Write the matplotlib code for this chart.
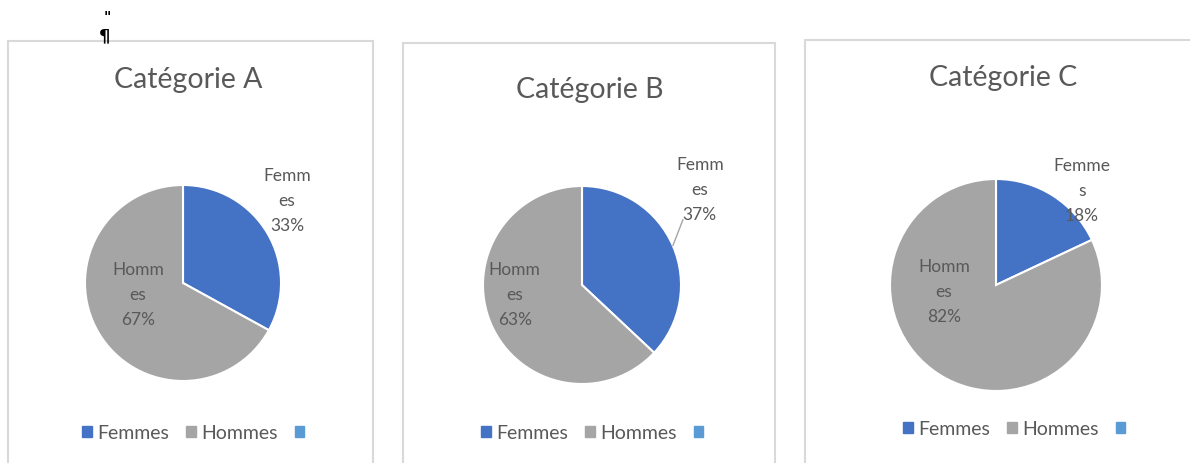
import numpy as np
import matplotlib.pyplot as plt
from matplotlib.patches import Rectangle, Patch

# données
titres = ["Catégorie A", "Catégorie B", "Catégorie C"]
categories = ["Femmes", "Hommes"]
etiquettes = [["Femm\nes", "Homm\nes"], ["Femm\nes", "Homm\nes"], ["Femme\ns", "Homm\nes"]]
valeurs_a = [33, 67]
valeurs_b = [37, 63]
valeurs_c = [18, 82]
valeurs = [valeurs_a, valeurs_b, valeurs_c]

couleurs = ["#4472C4", "#A5A5A5"]
couleur_vide = "#5B9BD5"
gris_texte = "#595959"

W, H = 1190, 464
fig = plt.figure(figsize=(W / 100, H / 100), dpi=100)
plt.rcParams['font.family'] = ['Lato', 'DejaVu Sans']

def px(x, y):
    return x / W, 1 - y / H

# cadres (gauche, haut, droite) en pixels
cadres = [(8, 42, 373), (403, 44, 775), (805, 41, 1195)]
# centre et rayon des camemberts
pies = [(183, 284, 98), (582, 286, 99), (996, 286, 106)]
titres_pos = [(188, 80), (590, 90), (1003, 78)]
# position des étiquettes (en rayons, relatif au centre)
lab_pos = [[(1.06, 0.85), (-0.46, -0.11)],
           [(1.19, 0.97), (-0.68, -0.09)],
           [(0.81, 0.90), (-0.49, -0.06)]]
leg_pos = [(82, 434), (481, 434), (903, 430)]

for i in range(3):
    l, t, r = cadres[i]
    fig.patches.append(Rectangle(px(l, H + 5), (r - l) / W, (H + 5 - t) / H,
                                 transform=fig.transFigure, fill=False,
                                 edgecolor="#D9D9D9", linewidth=1.5))
    tx, ty = titres_pos[i]
    fig.text(*px(tx, ty), titres[i], ha="center", va="center",
             fontsize=20.5, color=gris_texte)

    cx, cy, rad = pies[i]
    ax = fig.add_axes([(cx - rad) / W, 1 - (cy + rad) / H, 2 * rad / W, 2 * rad / H])
    wedges, _ = ax.pie(valeurs[i], colors=couleurs, startangle=90, counterclock=False,
                       wedgeprops=dict(edgecolor="white", linewidth=1.5))
    ax.set_xlim(-1, 1)
    ax.set_ylim(-1, 1)
    ax.set_aspect("equal")
    ax.axis("off")

    for j in range(2):
        lx, ly = lab_pos[i][j]
        txt = f"{etiquettes[i][j]}\n{valeurs[i][j]}%"
        ax.text(lx, ly, txt, ha="center", va="center", fontsize=12.5,
                color=gris_texte, linespacing=1.7, clip_on=False)

    if i == 1:
        # trait de rappel vers l'étiquette Femmes
        w = wedges[0]
        ang = np.deg2rad((w.theta1 + w.theta2) / 2)
        ax.annotate("", xy=(np.cos(ang), np.sin(ang)), xytext=(1.02, 0.66),
                    arrowprops=dict(arrowstyle="-", color="#A5A5A5", lw=1,
                                    shrinkA=0, shrinkB=0))

    lx, ly = leg_pos[i]
    handles = [Patch(color=couleurs[0]), Patch(color=couleurs[1]), Patch(color=couleur_vide)]
    fig.legend(handles, categories + [""], loc="center left",
               bbox_to_anchor=px(lx, ly), ncol=3, frameon=False, borderpad=0,
               borderaxespad=0, fontsize=14, handlelength=0.5, handleheight=0.5,
               handletextpad=0.3, columnspacing=0.85, labelcolor=gris_texte)

fig.text(*px(105, 36), "¶", ha="center", va="center", fontsize=13,
         fontweight="bold", color="black", family="DejaVu Sans")
fig.text(*px(107, 17), "\"", ha="center", va="center", fontsize=10,
         fontweight="bold", color="black", family="DejaVu Sans")

fig.savefig("out.png", dpi=100)
